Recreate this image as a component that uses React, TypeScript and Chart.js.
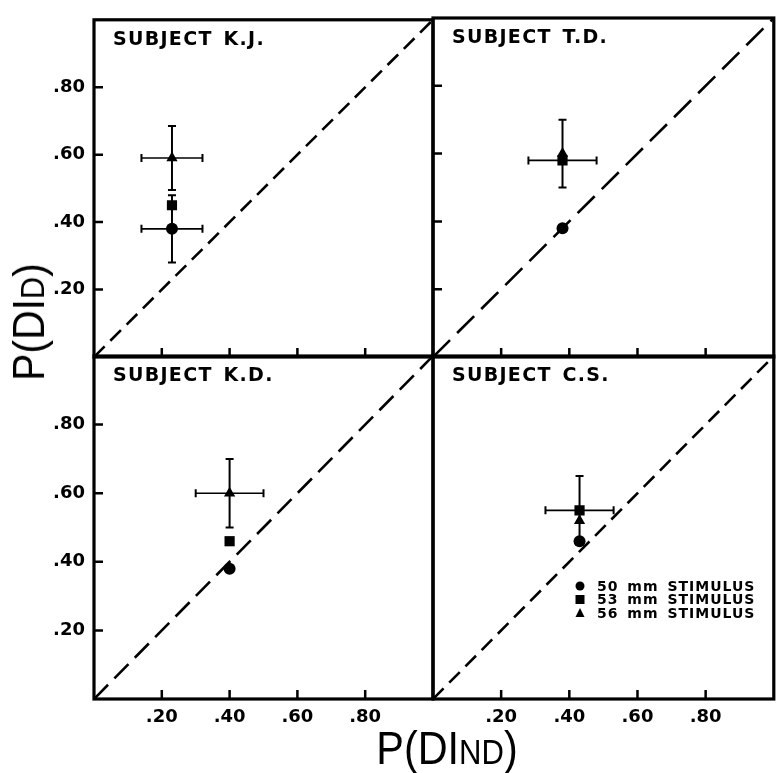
import React, { useEffect, useRef } from 'react';
import { Chart, registerables } from 'chart.js';

Chart.register(...registerables);

// ---------------- Data ----------------
const subjects = ['SUBJECT K.J.', 'SUBJECT T.D.', 'SUBJECT K.D.', 'SUBJECT C.S.'];
const stimuli = ['50 mm STIMULUS', '53 mm STIMULUS', '56 mm STIMULUS'];

// P(D|ND) (x) for each subject, per stimulus
const pDND50 = [0.23, 0.38, 0.40, 0.43];
const pDND53 = [0.23, 0.38, 0.40, 0.43];
const pDND56 = [0.23, 0.38, 0.40, 0.43];
// P(D|D) (y) for each subject, per stimulus
const pDD50 = [0.38, 0.38, 0.38, 0.46];
const pDD53 = [0.45, 0.58, 0.46, 0.55];
const pDD56 = [0.59, 0.60, 0.60, 0.52];
// error half-widths
const errDND50 = [0.09, 0, 0, 0];
const errDD50 = [0.10, 0, 0, 0];
const errDND53 = [0, 0.10, 0, 0.10];
const errDD53 = [0, 0, 0, 0.10];
const errDND56 = [0.09, 0, 0.10, 0];
const errDD56 = [0.095, 0.10, 0.10, 0];

const tickValues = [0.2, 0.4, 0.6, 0.8];
const tickLabels = ['.20', '.40', '.60', '.80'];
const chanceLine = [0, 1];

// ---------------- Layout / style ----------------
const W = 781;
const H = 773;
const Y_AXIS_W = 40;
const X_AXIS_H = 30;
const TICK_FONT = { family: 'DejaVu Sans', size: 18, weight: 'bold' as const };

type Spec = {
  area: [number, number, number, number];
  xLabels: boolean;
  yLabels: boolean;
  yTickMarks: boolean;
  dash: number[];
  legend?: boolean;
};

const PANELS: Spec[] = [
  { area: [94, 18, 433, 357], xLabels: false, yLabels: true, yTickMarks: true, dash: [15, 8] },
  { area: [433, 18, 777, 357], xLabels: false, yLabels: false, yTickMarks: true, dash: [24, 10] },
  { area: [94, 356, 433, 699], xLabels: true, yLabels: true, yTickMarks: true, dash: [20, 9] },
  { area: [433, 356, 777, 699], xLabels: true, yLabels: false, yTickMarks: false, dash: [15, 8], legend: true },
];

const STYLES = [
  { pointStyle: 'circle', radius: 6 },
  { pointStyle: 'rect', radius: 7.2 },
  { pointStyle: 'triangle', radius: 6.5 },
];

function drawMarker(ctx: CanvasRenderingContext2D, style: string, x: number, y: number, s: number) {
  ctx.beginPath();
  if (style === 'circle') {
    ctx.arc(x, y, s / 2, 0, Math.PI * 2);
  } else if (style === 'rect') {
    ctx.rect(x - s / 2, y - s / 2, s, s);
  } else {
    const h = (s * Math.sqrt(3)) / 2;
    ctx.moveTo(x, y - h / 2 - 1);
    ctx.lineTo(x + s / 2, y + h / 2);
    ctx.lineTo(x - s / 2, y + h / 2);
    ctx.closePath();
  }
  ctx.fill();
}

function buildConfig(spec: Spec, idx: number): any {
  const [L, T, R, B] = spec.area;
  const xs = [pDND50, pDND53, pDND56];
  const ys = [pDD50, pDD53, pDD56];
  const exs = [errDND50, errDND53, errDND56];
  const eys = [errDD50, errDD53, errDD56];

  const datasets: any[] = [
    {
      type: 'line',
      label: 'chance',
      data: chanceLine.map((v) => ({ x: v, y: v })),
      borderColor: '#000',
      borderWidth: 2.6,
      borderDash: spec.dash,
      pointRadius: 0,
      fill: false,
      tension: 0,
    },
  ];
  stimuli.forEach((name, s) => {
    datasets.push({
      type: 'scatter',
      label: name,
      data: [{ x: xs[s][idx], y: ys[s][idx] }],
      errX: [exs[s][idx]],
      errY: [eys[s][idx]],
      pointStyle: STYLES[s].pointStyle,
      pointRadius: STYLES[s].radius,
      pointBorderWidth: 0,
      backgroundColor: '#000',
      borderColor: '#000',
    });
  });

  const decor = {
    id: 'decor' + idx,
    beforeDatasetsDraw(chart: any) {
      const ctx = chart.ctx as CanvasRenderingContext2D;
      const x = chart.scales.x;
      const y = chart.scales.y;
      ctx.save();
      ctx.strokeStyle = '#000';
      ctx.lineCap = 'butt';
      chart.data.datasets.forEach((ds: any) => {
        if (!ds.errX) return;
        ds.data.forEach((pt: any, k: number) => {
          const px = x.getPixelForValue(pt.x);
          const py = y.getPixelForValue(pt.y);
          const ex = ds.errX[k] || 0;
          const ey = ds.errY[k] || 0;
          const cap = 4;
          if (ex > 0) {
            const x0 = x.getPixelForValue(pt.x - ex);
            const x1 = x.getPixelForValue(pt.x + ex);
            ctx.lineWidth = 1.6;
            ctx.beginPath();
            ctx.moveTo(x0, py);
            ctx.lineTo(x1, py);
            ctx.stroke();
            ctx.lineWidth = 2;
            ctx.beginPath();
            ctx.moveTo(x0, py - cap);
            ctx.lineTo(x0, py + cap);
            ctx.moveTo(x1, py - cap);
            ctx.lineTo(x1, py + cap);
            ctx.stroke();
          }
          if (ey > 0) {
            const y0 = y.getPixelForValue(pt.y - ey);
            const y1 = y.getPixelForValue(pt.y + ey);
            ctx.lineWidth = 2;
            ctx.beginPath();
            ctx.moveTo(px, y0);
            ctx.lineTo(px, y1);
            ctx.stroke();
            ctx.beginPath();
            ctx.moveTo(px - cap, y0);
            ctx.lineTo(px + cap, y0);
            ctx.moveTo(px - cap, y1);
            ctx.lineTo(px + cap, y1);
            ctx.stroke();
          }
        });
      });
      ctx.restore();
    },
    afterDraw(chart: any) {
      const ctx = chart.ctx as CanvasRenderingContext2D;
      const a = chart.chartArea;
      const x = chart.scales.x;
      const y = chart.scales.y;
      ctx.save();
      ctx.strokeStyle = '#000';
      // frame
      ctx.lineWidth = 3.2;
      ctx.strokeRect(a.left, a.top, a.right - a.left, a.bottom - a.top);
      // inward tick marks
      ctx.lineWidth = 2.5;
      ctx.beginPath();
      x.ticks.forEach((t: any) => {
        const px = x.getPixelForValue(t.value);
        ctx.moveTo(px, a.bottom);
        ctx.lineTo(px, a.bottom - 9);
      });
      if (spec.yTickMarks) {
        y.ticks.forEach((t: any) => {
          const py = y.getPixelForValue(t.value);
          ctx.moveTo(a.left, py);
          ctx.lineTo(a.left + 9, py);
        });
      }
      ctx.stroke();
      // panel title
      ctx.fillStyle = '#000';
      ctx.font = 'bold 19px "DejaVu Sans"';
      (ctx as any).letterSpacing = '1.3px';
      (ctx as any).wordSpacing = '3px';
      ctx.textBaseline = 'alphabetic';
      ctx.textAlign = 'left';
      ctx.fillText(subjects[idx], a.left + 19, a.top + 25);
      // legend
      if (spec.legend) {
        ctx.font = 'bold 14px "DejaVu Sans"';
        (ctx as any).letterSpacing = '1px';
        (ctx as any).wordSpacing = '3px';
        ctx.textBaseline = 'middle';
        const rows = chart.data.datasets.filter((d: any) => d.errX);
        rows.forEach((d: any, r: number) => {
          const cy = a.bottom - 113 + r * 13.5;
          drawMarker(ctx, d.pointStyle, a.left + 147, cy, 9);
          ctx.fillText(d.label, a.left + 164, cy + 1);
        });
      }
      ctx.restore();
    },
  };

  return {
    type: 'scatter',
    data: { datasets },
    plugins: [decor],
    options: {
      animation: false,
      responsive: false,
      maintainAspectRatio: false,
      events: [],
      layout: {
        padding: {
          left: L - (spec.yLabels ? Y_AXIS_W : 0),
          top: T,
          right: W - R,
          bottom: H - B - (spec.xLabels ? X_AXIS_H : 0),
        },
      },
      plugins: { legend: { display: false }, tooltip: { enabled: false }, title: { display: false } },
      scales: {
        x: {
          type: 'linear',
          min: 0,
          max: 1,
          grid: { display: false, drawTicks: false },
          border: { display: false },
          ticks: {
            display: spec.xLabels,
            color: '#000',
            font: TICK_FONT,
            padding: 8,
            maxRotation: 0,
            autoSkip: false,
            callback: (v: any) => {
              const i = tickValues.findIndex((t) => Math.abs(t - v) < 1e-6);
              return i >= 0 ? tickLabels[i] : '';
            },
          },
          afterBuildTicks: (s: any) => {
            s.ticks = tickValues.map((v) => ({ value: v }));
          },
          afterFit: (s: any) => {
            s.height = spec.xLabels ? X_AXIS_H : 0;
          },
        },
        y: {
          type: 'linear',
          min: 0,
          max: 1,
          grid: { display: false, drawTicks: false },
          border: { display: false },
          ticks: {
            display: spec.yLabels,
            color: '#000',
            font: TICK_FONT,
            padding: 9,
            autoSkip: false,
            callback: (v: any) => {
              const i = tickValues.findIndex((t) => Math.abs(t - v) < 1e-6);
              return i >= 0 ? tickLabels[i] : '';
            },
          },
          afterBuildTicks: (s: any) => {
            s.ticks = tickValues.map((v) => ({ value: v }));
          },
          afterFit: (s: any) => {
            s.width = spec.yLabels ? Y_AXIS_W : 0;
          },
        },
      },
    },
  };
}

function Panel({ spec, idx }: { spec: Spec; idx: number }) {
  const ref = useRef<HTMLCanvasElement>(null);
  useEffect(() => {
    const chart = new Chart(ref.current as HTMLCanvasElement, buildConfig(spec, idx));
    return () => chart.destroy();
  }, [spec, idx]);
  return (
    <canvas
      ref={ref}
      width={W}
      height={H}
      style={{ position: 'absolute', left: 0, top: 0, width: W, height: H }}
    />
  );
}

const titleFont: React.CSSProperties = {
  position: 'absolute',
  fontFamily: '"Liberation Sans", Arial, sans-serif',
  fontSize: 46,
  lineHeight: '46px',
  color: '#000',
  whiteSpace: 'nowrap',
};

export default function App() {
  return (
    <div
      style={{
        position: 'fixed',
        left: 0,
        top: 0,
        width: W,
        height: H,
        background: '#fff',
        overflow: 'hidden',
      }}
    >
      {PANELS.map((p, i) => (
        <Panel key={i} spec={p} idx={i} />
      ))}
      <div
        style={{
          ...titleFont,
          fontSize: 44,
          lineHeight: '44px',
          left: 31,
          top: 322,
          transform: 'translate(-50%, -50%) rotate(-90deg) scaleX(0.93)',
        }}
      >
        P(DI<span style={{ fontSize: '0.75em' }}>D</span>)
      </div>
      <div
        style={{
          ...titleFont,
          left: 447,
          top: 750,
          transform: 'translate(-50%, -50%) scaleX(0.9)',
        }}
      >
        P(DI<span style={{ fontSize: '0.75em' }}>ND</span>)
      </div>
    </div>
  );
}
